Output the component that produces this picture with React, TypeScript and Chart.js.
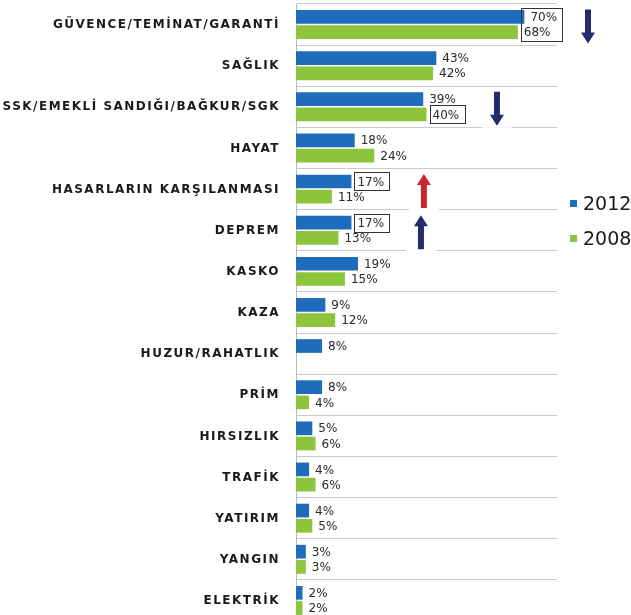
import React, { useEffect, useRef } from "react";
import { Chart, registerables } from "chart.js";

Chart.register(...registerables);

const categories = [
  "GÜVENCE/TEMİNAT/GARANTİ",
  "SAĞLIK",
  "SSK/EMEKLİ SANDIĞI/BAĞKUR/SGK",
  "HAYAT",
  "HASARLARIN KARŞILANMASI",
  "DEPREM",
  "KASKO",
  "KAZA",
  "HUZUR/RAHATLIK",
  "PRİM",
  "HIRSIZLIK",
  "TRAFİK",
  "YATIRIM",
  "YANGIN",
  "ELEKTRİK",
];
const values2012 = [70, 43, 39, 18, 17, 17, 19, 9, 8, 8, 5, 4, 4, 3, 2];
const values2008 = [68, 42, 40, 24, 11, 13, 15, 12, null, 4, 6, 6, 5, 3, 2];
const seriesNames = ["2012", "2008"];

// label boxes: category index and which series' labels are boxed together
const boxedLabels = [
  { cat: 0, series: [0, 1] },
  { cat: 2, series: [1] },
  { cat: 4, series: [0] },
  { cat: 5, series: [0] },
];
// trend arrows: category, value on x axis, direction
const trendArrows = [
  { cat: 0, value: 89.5, dir: "down", kind: "navy" },
  { cat: 2, value: 61.6, dir: "down", kind: "navy" },
  { cat: 4, value: 39.2, dir: "up", kind: "red" },
  { cat: 5, value: 38.3, dir: "up", kind: "navy" },
];

const BLUE = "#1f6cbd";
const GREEN = "#8cc43c";

function drawArrow(ctx: CanvasRenderingContext2D, x: number, yc: number, dir: string, kind: string) {
  const half = 17;
  const top = yc - half;
  const bot = yc + half;
  ctx.save();
  ctx.fillStyle = "#ffffff";
  ctx.fillRect(x - 15, top - 2, 30, bot - top + 4);
  ctx.fillStyle = kind === "red" ? "#c8262c" : "#232c6b";
  const shaft = 3;
  const head = 7;
  const headLen = 11;
  ctx.beginPath();
  if (dir === "down") {
    ctx.moveTo(x - shaft, top);
    ctx.lineTo(x + shaft, top);
    ctx.lineTo(x + shaft, bot - headLen);
    ctx.lineTo(x + head, bot - headLen);
    ctx.lineTo(x, bot);
    ctx.lineTo(x - head, bot - headLen);
    ctx.lineTo(x - shaft, bot - headLen);
  } else {
    ctx.moveTo(x - shaft, bot);
    ctx.lineTo(x + shaft, bot);
    ctx.lineTo(x + shaft, top + headLen);
    ctx.lineTo(x + head, top + headLen);
    ctx.lineTo(x, top);
    ctx.lineTo(x - head, top + headLen);
    ctx.lineTo(x - shaft, top + headLen);
  }
  ctx.closePath();
  ctx.fill();
  ctx.restore();
}

const decorPlugin = {
  id: "decor",
  afterDatasetsDraw(chart: any) {
    const ctx: CanvasRenderingContext2D = chart.ctx;
    const yScale = chart.scales.y;
    const xScale = chart.scales.x;

    // y category labels with letter spacing
    ctx.save();
    ctx.font = "bold 12px 'DejaVu Sans'";
    (ctx as any).letterSpacing = "1.5px";
    ctx.fillStyle = "#1a1a1a";
    ctx.textAlign = "right";
    ctx.textBaseline = "middle";
    categories.forEach((c, i) => {
      ctx.fillText(c, 280, yScale.getPixelForTick(i) + 0.5);
    });
    ctx.restore();

    // value labels
    ctx.save();
    ctx.font = "12px 'DejaVu Sans'";
    ctx.fillStyle = "#2a2a2a";
    ctx.textAlign = "left";
    ctx.textBaseline = "middle";
    const labelPos: any = {};
    chart.data.datasets.forEach((ds: any, di: number) => {
      const meta = chart.getDatasetMeta(di);
      meta.data.forEach((bar: any, i: number) => {
        const v = ds.data[i];
        if (v === null || v === undefined) return;
        const txt = v + "%";
        const tx = bar.x + 6;
        ctx.fillText(txt, tx, bar.y + 1);
        labelPos[di + "_" + i] = { x: tx, y: bar.y, w: ctx.measureText(txt).width };
      });
    });
    ctx.restore();

    // boxes
    ctx.save();
    ctx.strokeStyle = "#333";
    ctx.lineWidth = 1;
    boxedLabels.forEach((b) => {
      let l = Infinity, r = -Infinity, t = Infinity, bt = -Infinity;
      b.series.forEach((s) => {
        const p = labelPos[s + "_" + b.cat];
        if (!p) return;
        l = Math.min(l, p.x - 3);
        r = Math.max(r, p.x + p.w + 5);
        t = Math.min(t, p.y - 9);
        bt = Math.max(bt, p.y + 9);
      });
      if (l < r) ctx.strokeRect(Math.round(l) + 0.5, Math.round(t) + 0.5, Math.round(r - l), Math.round(bt - t));
    });
    ctx.restore();

    // arrows
    trendArrows.forEach((a) => {
      drawArrow(ctx, xScale.getPixelForValue(a.value), yScale.getPixelForTick(a.cat) + 2, a.dir, a.kind);
    });

    // legend
    ctx.save();
    const colors = [BLUE, GREEN];
    const legendY = [204, 239];
    ctx.font = "19px 'DejaVu Sans'";
    ctx.textBaseline = "middle";
    ctx.textAlign = "left";
    seriesNames.forEach((n, i) => {
      ctx.fillStyle = colors[i];
      ctx.fillRect(570, legendY[i] - 4, 7, 7);
      ctx.fillStyle = "#1a1a1a";
      ctx.fillText(n, 583, legendY[i] + 1);
    });
    ctx.restore();
  },
};

export default function App() {
  const ref = useRef<HTMLCanvasElement | null>(null);
  useEffect(() => {
    if (!ref.current) return;
    const chart = new Chart(ref.current, {
      type: "bar",
      data: {
        labels: categories,
        datasets: [
          { label: seriesNames[0], data: values2012, backgroundColor: BLUE, categoryPercentage: 0.74, barPercentage: 0.9 },
          { label: seriesNames[1], data: values2008 as any, backgroundColor: GREEN, categoryPercentage: 0.74, barPercentage: 0.9 },
        ],
      },
      options: {
        indexAxis: "y",
        responsive: false,
        animation: false,
        devicePixelRatio: 1,
        layout: { padding: { left: 0, right: 74, top: 4, bottom: 0 } },
        plugins: { legend: { display: false }, tooltip: { enabled: false } },
        scales: {
          x: { display: false, min: 0, max: 80 },
          y: {
            display: true,
            ticks: { display: false },
            grid: { offset: true, color: "#c9c9c9", drawTicks: false, lineWidth: 1 },
            border: { display: true, color: "#a9c0d6" },
            afterFit: (scale: any) => {
              scale.width = 296;
            },
          },
        },
      },
      plugins: [decorPlugin],
    } as any);
    return () => chart.destroy();
  }, []);
  return (
    <div style={{ position: "fixed", left: 0, top: 0, width: 631, height: 621, background: "#fff" }}>
      <canvas ref={ref} width={631} height={621} />
    </div>
  );
}
